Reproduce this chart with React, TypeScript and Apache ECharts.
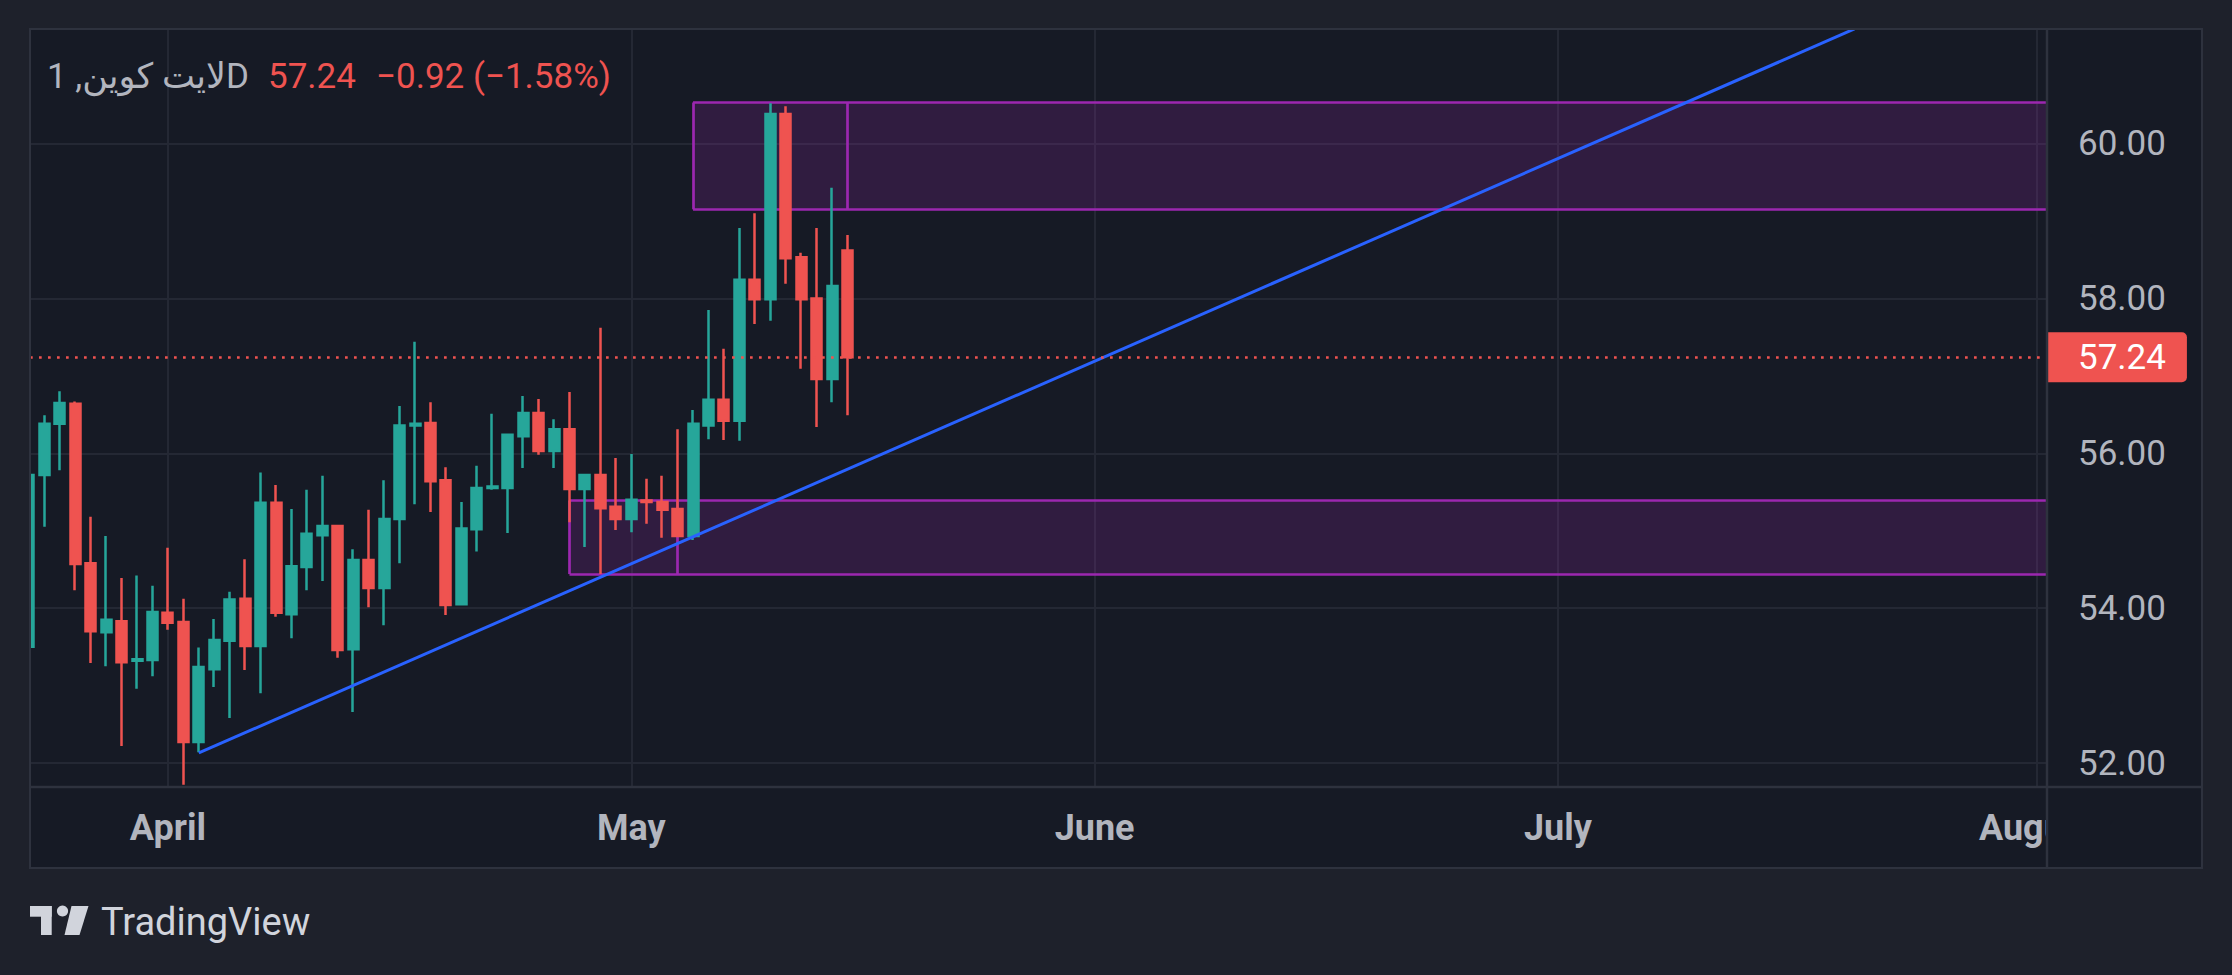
import React, { useEffect, useRef } from "react";
import * as echarts from "echarts";

// ---------------- data ----------------
const dates = [
  "Mar 23", "Mar 24", "Mar 25", "Mar 26", "Mar 27", "Mar 28", "Mar 29", "Mar 30", "Mar 31",
  "Apr 1", "Apr 2", "Apr 3", "Apr 4", "Apr 5", "Apr 6", "Apr 7", "Apr 8", "Apr 9", "Apr 10",
  "Apr 11", "Apr 12", "Apr 13", "Apr 14", "Apr 15", "Apr 16", "Apr 17", "Apr 18", "Apr 19",
  "Apr 20", "Apr 21", "Apr 22", "Apr 23", "Apr 24", "Apr 25", "Apr 26", "Apr 27", "Apr 28",
  "Apr 29", "Apr 30", "May 1", "May 2", "May 3", "May 4", "May 5", "May 6", "May 7", "May 8",
  "May 9", "May 10", "May 11", "May 12", "May 13", "May 14", "May 15",
];
const opens = [
  53.5, 55.72, 56.38, 56.64, 54.58, 53.69, 53.83, 53.32, 53.33,
  53.94, 53.82, 52.27, 53.21, 53.58, 54.12, 53.51, 55.36, 53.92, 54.53,
  54.94, 55.06, 53.47, 54.62, 54.26, 55.15, 56.36, 56.39, 55.65,
  54.05, 55.02, 55.55, 55.55, 56.22, 56.52, 56.03, 56.31, 55.54,
  55.72, 55.31, 55.15, 55.39, 55.37, 55.28, 54.93, 56.36, 56.69, 56.42,
  58.24, 57.99, 60.38, 58.53, 58.0, 56.96, 58.62,
];
const highs = [
  55.9, 56.49, 56.8, 56.67, 55.18, 54.93, 54.39, 54.42, 54.29,
  54.78, 54.12, 53.49, 53.86, 54.21, 54.63, 55.75, 55.59, 55.28, 55.53,
  55.71, 55.06, 54.76, 55.27, 55.65, 56.61, 57.44, 56.66, 55.82,
  55.37, 55.84, 56.51, 56.24, 56.74, 56.7, 56.44, 56.79, 55.72,
  57.62, 55.94, 55.99, 55.67, 55.71, 56.31, 56.56, 57.85, 57.35, 58.91,
  59.1, 60.52, 60.48, 58.59, 58.91, 59.43, 58.82,
];
const lows = [
  53.3, 55.05, 55.78, 54.23, 53.29, 53.25, 52.22, 52.96, 53.12,
  53.72, 51.72, 52.14, 52.98, 52.58, 53.2, 52.9, 53.89, 53.61, 54.23,
  54.35, 53.36, 52.66, 54.01, 53.78, 54.58, 55.34, 55.24, 53.91,
  54.05, 54.73, 55.53, 54.97, 55.81, 55.98, 55.81, 55.11, 54.79,
  54.44, 55.01, 54.98, 55.09, 54.91, 54.93, 54.88, 56.18, 56.17, 56.16,
  57.67, 57.71, 58.19, 57.09, 56.34, 56.66, 56.49,
];
const closes = [
  55.72, 56.38, 56.65, 54.57, 53.7, 53.85, 53.3, 53.34, 53.95,
  53.81, 52.27, 53.24, 53.59, 54.11, 53.51, 55.36, 53.94, 54.54, 54.96,
  55.06, 53.46, 54.62, 54.26, 55.15, 56.36, 56.38, 55.64, 54.04,
  55.03, 55.55, 55.57, 56.24, 56.52, 56.03, 56.31, 55.54, 55.72,
  55.29, 55.15, 55.4, 55.37, 55.27, 54.93, 56.38, 56.69, 56.42, 58.24,
  57.99, 60.38, 58.52, 57.99, 56.96, 58.16, 57.24,
];

const priceTicks = [52, 54, 56, 58, 60];
const monthLabels = ["April", "May", "June", "July", "August"];
const monthBars = [9, 39, 69, 99, 130];

// zones: [startBar, dividerBar, top, bottom]
const upperZone = [43, 53, 60.53, 59.15];
const lowerZone = [35, 42, 55.39, 54.44];
// trend line
const trendBars = [11, 118.2];
const trendPrices = [52.13, 61.48];

const symbolName = "لایت کوین, 1D";

const X_MIN = 0.071;
const X_MAX = 130.6;
const Y_MIN = 51.703;
const Y_MAX = 61.479;

// ---------------- styles ----------------
const FONT = 'Roboto, "DejaVu Sans", "Noto Sans", sans-serif';
const OUTER = "#1e212b";
const PANEL = "#161a25";
const BORDER = "#2e323e";
const GRIDC = "#242834";
const TEXT = "#b2b5be";
const UP = "#26a69a";
const DOWN = "#ef5350";
const ZONE = "#9c27b0";

function zoneSegments(z: number[]) {
  const [x1, x2, top, bottom] = z;
  return [
    [{ coord: [x1, top] }, { coord: [X_MAX, top] }],
    [{ coord: [x1, bottom] }, { coord: [X_MAX, bottom] }],
    [{ coord: [x1, top] }, { coord: [x1, bottom] }],
    [{ coord: [x2, top] }, { coord: [x2, bottom] }],
  ];
}

export default function App() {
  const ref = useRef<HTMLDivElement>(null);

  useEffect(() => {
    if (!ref.current) return;
    const chart = echarts.init(ref.current, undefined, { renderer: "svg" });

    const n = closes.length;
    const last = closes[n - 1];
    const prev = closes[n - 2];
    const change = last - prev;
    const pct = (change / prev) * 100;
    const fmtSigned = (v: number, d: number) =>
      (v < 0 ? "\u2212" : "+") + Math.abs(v).toFixed(d);

    const candleData = opens.map((o, i) => [i, o, closes[i], lows[i], highs[i]]);

    const option: any = {
      animation: false,
      backgroundColor: PANEL,
      grid: { left: 30, top: 29, width: 2016, height: 757, containLabel: false },
      xAxis: {
        type: "value",
        min: X_MIN,
        max: X_MAX,
        axisLine: { show: false },
        axisTick: { show: false, customValues: monthBars },
        axisLabel: {
          customValues: monthBars,
          formatter: (v: number) => {
            const k = monthBars.indexOf(Math.round(v));
            return k >= 0 ? monthLabels[k] : "";
          },
          color: TEXT,
          fontSize: 36,
          fontWeight: "bold",
          fontFamily: FONT,
          margin: 24,
        },
        splitLine: { show: true, lineStyle: { color: GRIDC, width: 2 } },
      },
      yAxis: {
        type: "value",
        position: "right",
        min: Y_MIN,
        max: Y_MAX,
        axisLine: { show: false },
        axisTick: { show: false, customValues: priceTicks },
        axisLabel: {
          customValues: priceTicks,
          formatter: (v: number) => v.toFixed(2),
          color: TEXT,
          fontSize: 35,
          fontFamily: FONT,
          margin: 32,
        },
        splitLine: { show: true, lineStyle: { color: GRIDC, width: 2 } },
      },
      series: [
        {
          name: "zones",
          type: "line",
          data: [],
          z: 1,
          silent: true,
          markArea: {
            silent: true,
            z: 1,
            itemStyle: { color: "rgba(156,39,176,0.2)", borderWidth: 0 },
            data: [
              [{ coord: [upperZone[0], upperZone[2]] }, { coord: [X_MAX, upperZone[3]] }],
              [{ coord: [lowerZone[0], lowerZone[2]] }, { coord: [X_MAX, lowerZone[3]] }],
            ],
          },
          markLine: {
            silent: true,
            z: 1.5,
            symbol: ["none", "none"],
            label: { show: false },
            lineStyle: { color: ZONE, width: 2.7, type: "solid" },
            data: [...zoneSegments(upperZone), ...zoneSegments(lowerZone)],
          },
        },
        {
          name: "LTC",
          type: "candlestick",
          z: 2,
          encode: { x: 0, y: [1, 2, 3, 4] },
          data: candleData,
          barWidth: 10.5,
          itemStyle: {
            color: UP,
            color0: DOWN,
            borderColor: UP,
            borderColor0: DOWN,
            borderWidth: 2.5,
          },
          markLine: {
            silent: true,
            z: 10,
            symbol: ["none", "none"],
            lineStyle: { color: DOWN, width: 2.7, type: [2.7, 6.3] },
            label: {
              show: true,
              position: "end",
              distance: 1,
              formatter: () => last.toFixed(2),
              backgroundColor: DOWN,
              color: "#ffffff",
              fontSize: 35,
              fontFamily: FONT,
              lineHeight: 35,
              padding: [8, 21, 7, 31],
              borderRadius: [0, 5, 5, 0],
            },
            data: [{ yAxis: last }],
          },
        },
        {
          name: "trend",
          type: "line",
          z: 3,
          silent: true,
          symbol: "none",
          data: trendBars.map((b, i) => [b, trendPrices[i]]),
          lineStyle: { color: "#2962ff", width: 3 },
        },
      ],
      graphic: {
        elements: [
          { type: "rect", silent: true, z: 100, shape: { x: 0, y: 0, width: 2232, height: 29 }, style: { fill: OUTER } },
          { type: "rect", silent: true, z: 100, shape: { x: 0, y: 0, width: 30, height: 975 }, style: { fill: OUTER } },
          { type: "rect", silent: true, z: 100, shape: { x: 2202, y: 0, width: 30, height: 975 }, style: { fill: OUTER } },
          { type: "rect", silent: true, z: 100, shape: { x: 0, y: 868, width: 2232, height: 107 }, style: { fill: OUTER } },
          { type: "rect", silent: true, z: 50, shape: { x: 2048, y: 788, width: 153, height: 79 }, style: { fill: PANEL } },
          { type: "line", silent: true, z: 60, shape: { x1: 2047, y1: 29, x2: 2047, y2: 868 }, style: { stroke: BORDER, lineWidth: 2.5 } },
          { type: "line", silent: true, z: 60, shape: { x1: 30, y1: 787, x2: 2202, y2: 787 }, style: { stroke: BORDER, lineWidth: 2.5 } },
          { type: "rect", silent: true, z: 101, shape: { x: 30, y: 29, width: 2172, height: 839 }, style: { fill: "none", stroke: BORDER, lineWidth: 2 } },
          {
            type: "text", silent: true, z: 110, x: 249, y: 76,
            style: { text: symbolName, fill: TEXT, fontSize: 35, fontFamily: FONT, align: "right", verticalAlign: "middle", textAlign: "right", textVerticalAlign: "middle" },
          },
          {
            type: "text", silent: true, z: 110, x: 268, y: 76,
            style: { text: last.toFixed(2), fill: DOWN, fontSize: 35, fontFamily: FONT, align: "left", verticalAlign: "middle", textAlign: "left", textVerticalAlign: "middle" },
          },
          {
            type: "text", silent: true, z: 110, x: 376, y: 76,
            style: {
              text: fmtSigned(change, 2) + " (" + fmtSigned(pct, 2) + "%)",
              fill: DOWN, fontSize: 35, fontFamily: FONT, align: "left", verticalAlign: "middle", textAlign: "left", textVerticalAlign: "middle",
            },
          },
          // TradingView logo
          { type: "rect", silent: true, z: 110, shape: { x: 30, y: 906, width: 21.7, height: 10.7 }, style: { fill: "#d1d4dc" } },
          { type: "rect", silent: true, z: 110, shape: { x: 41, y: 906, width: 10.7, height: 29 }, style: { fill: "#d1d4dc" } },
          { type: "circle", silent: true, z: 110, shape: { cx: 62.5, cy: 911, r: 5.6 }, style: { fill: "#d1d4dc" } },
          { type: "polygon", silent: true, z: 110, shape: { points: [[71.5, 906], [88.5, 906], [79.5, 935], [64.5, 935]] }, style: { fill: "#d1d4dc" } },
          {
            type: "text", silent: true, z: 110, x: 101, y: 922,
            style: { text: "TradingView", fill: "#d1d4dc", fontSize: 38, fontFamily: FONT, align: "left", verticalAlign: "middle", textAlign: "left", textVerticalAlign: "middle" },
          },
        ],
      },
    };

    chart.setOption(option);
    return () => chart.dispose();
  }, []);

  return (
    <div
      ref={ref}
      style={{ position: "fixed", left: 0, top: 0, width: 2232, height: 975 }}
    />
  );
}
